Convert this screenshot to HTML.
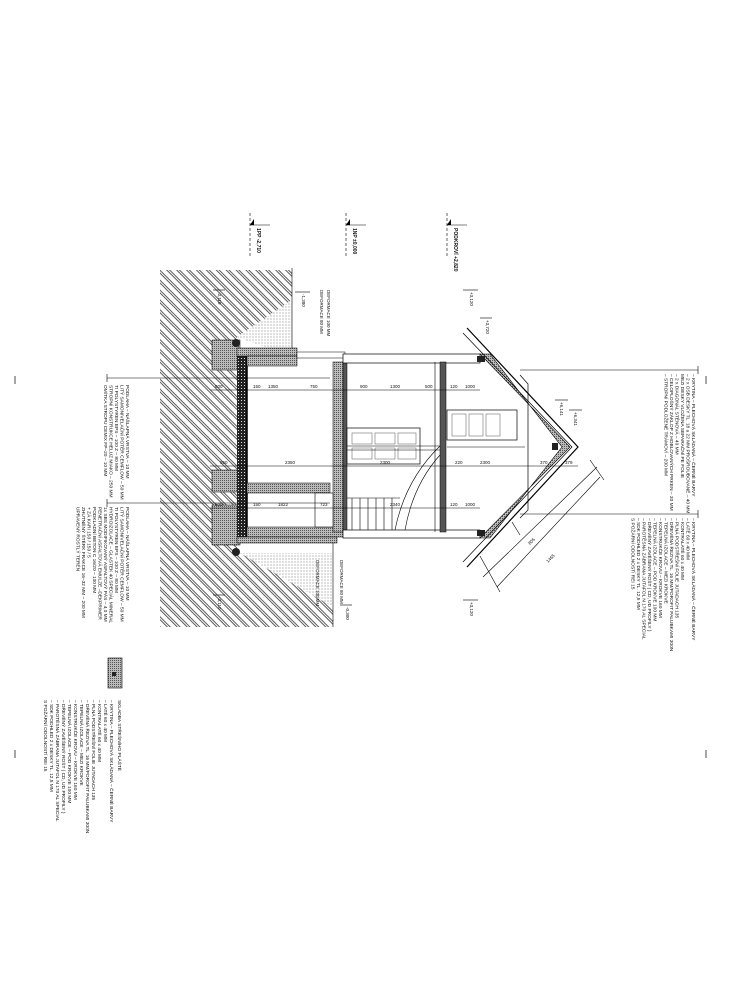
<!DOCTYPE html>
<html><head><meta charset="utf-8"><style>
html,body{margin:0;padding:0;background:#fff;}
svg{display:block;}
text{font-family:"Liberation Sans",sans-serif;fill:#111;}
</style></head><body>
<svg width="739" height="1000" viewBox="0 0 739 1000" xmlns="http://www.w3.org/2000/svg">
<defs>
<pattern id="h" width="7" height="7" patternUnits="userSpaceOnUse" patternTransform="rotate(45)">
<rect width="7" height="7" fill="#fff"/>
<line x1="0" y1="1" x2="7" y2="1" stroke="#333" stroke-width="0.8"/>
<line x1="0" y1="3" x2="7" y2="3" stroke="#333" stroke-width="0.8"/>
</pattern>
<pattern id="d" width="3" height="3" patternUnits="userSpaceOnUse">
<rect width="3" height="3" fill="#fff"/><circle cx="1" cy="1" r="0.5" fill="#555"/>
</pattern>
<pattern id="g" width="2" height="2" patternUnits="userSpaceOnUse">
<rect width="2" height="2" fill="#bbb"/><rect width="1" height="1" fill="#555"/>
</pattern>
<pattern id="c" width="3" height="3" patternUnits="userSpaceOnUse">
<rect width="3" height="3" fill="#222"/><rect x="1" y="1" width="1" height="1" fill="#ddd"/>
</pattern>
</defs>

<line x1="15" y1="376" x2="15" y2="384" stroke="#000" stroke-width="0.7"/>
<line x1="15" y1="750" x2="15" y2="758" stroke="#000" stroke-width="0.7"/>
<line x1="706" y1="376" x2="706" y2="384" stroke="#000" stroke-width="0.7"/>
<line x1="706" y1="750" x2="706" y2="758" stroke="#000" stroke-width="0.7"/>

<polygon points="160,270 292,270 292,300 237,337 237,553 292,553 333,553 333,627 160,627" fill="url(#h)"/>
<polygon points="292,300 292,357 237,337" fill="url(#d)"/>
<polygon points="240,553 333,553 333,607" fill="url(#d)"/>
<line x1="292" y1="268" x2="292" y2="357" stroke="#000" stroke-width="0.6"/>
<line x1="333" y1="540" x2="333" y2="627" stroke="#000" stroke-width="0.6"/>

<rect x="212" y="340" width="28" height="30" fill="url(#g)" stroke="#000" stroke-width="0.5"/>
<rect x="212" y="470" width="28" height="22" fill="url(#g)" stroke="#000" stroke-width="0.5"/>
<rect x="212" y="505" width="28" height="40" fill="url(#g)" stroke="#000" stroke-width="0.5"/>
<circle cx="236" cy="343" r="4" fill="#222"/><circle cx="236" cy="552" r="4" fill="#222"/>

<rect x="237" y="348" width="10" height="192" fill="url(#c)"/>
<line x1="247" y1="350" x2="247" y2="540" stroke="#000" stroke-width="1.5"/>
<rect x="237" y="348" width="60" height="8" fill="url(#g)" stroke="#000" stroke-width="0.5"/>
<rect x="247" y="356" width="50" height="10" fill="url(#g)" stroke="#000" stroke-width="0.5"/>
<rect x="297" y="352" width="48" height="6" fill="#fff" stroke="#000" stroke-width="0.5"/>
<rect x="247" y="527" width="98" height="10" fill="url(#g)" stroke="#000" stroke-width="0.5"/>
<rect x="237" y="537" width="100" height="6" fill="url(#g)" stroke="#000" stroke-width="0.5"/>
<rect x="247" y="483" width="83" height="10" fill="url(#g)" stroke="#000" stroke-width="0.5"/>
<rect x="333" y="362" width="10" height="170" fill="url(#g)" stroke="#000" stroke-width="0.5"/>
<rect x="315" y="493" width="18" height="34" fill="#fff" stroke="#000" stroke-width="0.6"/>

<rect x="343" y="362" width="4" height="170" fill="#555" stroke="#000" stroke-width="0.5"/>
<rect x="343" y="354" width="137" height="9" fill="#fff" stroke="#000" stroke-width="0.7"/>
<rect x="343" y="530" width="137" height="8" fill="#fff" stroke="#000" stroke-width="0.7"/>
<rect x="440" y="362" width="6" height="170" fill="#555" stroke="#000" stroke-width="0.5"/>
<line x1="435" y1="362" x2="435" y2="532" stroke="#000" stroke-width="0.6"/>
<rect x="347" y="428" width="73" height="36" fill="#fff" stroke="#000" stroke-width="0.7"/>
<rect x="352" y="433" width="20" height="11" fill="none" stroke="#555" stroke-width="0.5"/>
<rect x="375" y="433" width="20" height="11" fill="none" stroke="#555" stroke-width="0.5"/>
<rect x="398" y="433" width="18" height="11" fill="none" stroke="#555" stroke-width="0.5"/>
<rect x="352" y="448" width="20" height="11" fill="none" stroke="#555" stroke-width="0.5"/>
<rect x="375" y="448" width="20" height="11" fill="none" stroke="#555" stroke-width="0.5"/>
<rect x="398" y="448" width="18" height="11" fill="none" stroke="#555" stroke-width="0.5"/>
<rect x="447" y="410" width="70" height="30" fill="#fff" stroke="#000" stroke-width="0.7"/>
<rect x="452" y="414" width="14" height="22" fill="none" stroke="#555" stroke-width="0.5"/>
<rect x="469" y="414" width="14" height="22" fill="none" stroke="#555" stroke-width="0.5"/>
<rect x="486" y="414" width="14" height="22" fill="none" stroke="#555" stroke-width="0.5"/>
<g stroke="#000" stroke-width="0.6">
<line x1="347" y1="498" x2="400" y2="498"/>
<line x1="352" y1="498" x2="352" y2="530"/><line x1="360" y1="498" x2="360" y2="530"/>
<line x1="368" y1="498" x2="368" y2="530"/><line x1="376" y1="498" x2="376" y2="530"/>
<line x1="384" y1="498" x2="384" y2="530"/><line x1="392" y1="498" x2="392" y2="530"/>
<path d="M395,530 Q405,480 440,446" fill="none"/><path d="M405,530 Q413,485 440,455" fill="none"/>
<line x1="347" y1="446" x2="440" y2="446"/><line x1="347" y1="450" x2="440" y2="450"/>
<line x1="447" y1="447" x2="525" y2="447"/>
</g>

<polygon points="480,354 570,447 480,538 490,538 562,447 490,354" fill="url(#g)" stroke="#000" stroke-width="0.6"/>
<polyline points="467,328 578,447 467,567" fill="none" stroke="#000" stroke-width="1.2"/>
<polyline points="463,333 572,447 463,562" fill="none" stroke="#000" stroke-width="0.7"/>
<polyline points="520,375 528,384 528,510 520,518" fill="none" stroke="#000" stroke-width="0.7"/>
<rect x="477" y="356" width="8" height="6" fill="#222"/><rect x="477" y="530" width="8" height="6" fill="#222"/>
<rect x="552" y="443" width="6" height="7" fill="#222"/>

<g stroke="#000" stroke-width="0.6">
<line x1="210" y1="390" x2="480" y2="390"/>
<line x1="210" y1="466" x2="578" y2="466"/>
<line x1="210" y1="508" x2="480" y2="508"/>
<line x1="107" y1="378" x2="330" y2="378"/>
<line x1="107" y1="503" x2="330" y2="503"/>
<line x1="107" y1="374" x2="107" y2="382"/><line x1="107" y1="499" x2="107" y2="507"/>
<line x1="520" y1="370" x2="698" y2="370"/>
<line x1="520" y1="514" x2="698" y2="514"/>
<line x1="698" y1="366" x2="698" y2="374"/><line x1="698" y1="510" x2="698" y2="518"/>
<line x1="483" y1="577" x2="597" y2="467"/>
<line x1="497" y1="587" x2="600" y2="477"/>
<line x1="480" y1="556" x2="500" y2="592"/>
<line x1="512" y1="522" x2="520" y2="535"/>
<line x1="590" y1="460" x2="604" y2="480"/>
</g>
<g font-size="4.5">
<text x="215" y="388">600</text><text x="253" y="388">150</text><text x="268" y="388">1350</text><text x="310" y="388">750</text>
<text x="360" y="388">900</text><text x="390" y="388">1300</text><text x="425" y="388">500</text><text x="450" y="388">120</text><text x="465" y="388">1000</text>
<text x="220" y="464">950</text><text x="285" y="464">2350</text><text x="380" y="464">2300</text><text x="455" y="464">220</text><text x="480" y="464">2300</text><text x="540" y="464">370</text><text x="565" y="464">379</text>
<text x="215" y="506">600</text><text x="253" y="506">150</text><text x="278" y="506">1822</text><text x="320" y="506">723</text><text x="390" y="506">2340</text><text x="450" y="506">120</text><text x="465" y="506">1000</text>
</g>

<g stroke="#000" stroke-width="0.6" stroke-dasharray="3,2">
<line x1="250" y1="213" x2="250" y2="258"/><line x1="346" y1="213" x2="346" y2="258"/><line x1="447" y1="213" x2="447" y2="258"/>
</g>
<g stroke="#000" stroke-width="0.6">
<line x1="250" y1="225" x2="270" y2="225"/><line x1="346" y1="225" x2="366" y2="225"/><line x1="447" y1="225" x2="467" y2="225"/>
<line x1="295" y1="292" x2="310" y2="292"/><line x1="463" y1="290" x2="478" y2="290"/><line x1="480" y1="318" x2="492" y2="318"/>
<line x1="213" y1="290" x2="225" y2="290"/><line x1="213" y1="595" x2="225" y2="595"/><line x1="463" y1="600" x2="478" y2="600"/>
<line x1="340" y1="605" x2="352" y2="605"/><line x1="555" y1="400" x2="568" y2="400"/><line x1="569" y1="410" x2="582" y2="410"/>
</g>
<polygon points="250,225 254,219 254,225" fill="#000"/><polygon points="346,225 350,219 350,225" fill="#000"/><polygon points="447,225 451,219 451,225" fill="#000"/>
<g font-size="5" font-weight="bold">
<text transform="translate(257,228) rotate(90)">1PP -2,710</text>
<text transform="translate(353,228) rotate(90)">1NP ±0,000</text>
<text transform="translate(454,228) rotate(90)">PODKROVÍ +2,820</text>
</g>
<g font-size="4.5">
<text transform="translate(302,294) rotate(90)">-1,380</text>
<text transform="translate(470,292) rotate(90)">+3,120</text>
<text transform="translate(486,320) rotate(90)">+3,720</text>
<text transform="translate(218,292) rotate(90)">-3,110</text>
<text transform="translate(218,597) rotate(90)">-3,110</text>
<text transform="translate(470,602) rotate(90)">+3,120</text>
<text transform="translate(346,607) rotate(90)">-0,300</text>
<text transform="translate(560,402) rotate(90)">+6,141</text>
<text transform="translate(574,412) rotate(90)">+6,341</text>
<text transform="translate(320,290) rotate(90)">DEFORMACE 80 MM</text>
<text transform="translate(327,290) rotate(90)">DEFORMACE 100 MM</text>
<text transform="translate(316,560) rotate(90)">DEFORMACE 100 MM</text>
<text transform="translate(340,560) rotate(90)">DEFORMACE 80 MM</text>
<text transform="translate(530,545) rotate(-45)">805</text>
<text transform="translate(548,563) rotate(-45)">1465</text>
</g>

<g font-size="4.8">
<text transform="translate(692,374) rotate(90)">– KRYTINA – PLECHOVÁ SKLÁDANÁ – ČERNÉ BARVY</text>
<text transform="translate(686.5,374) rotate(90)">– 2 x OSB DESKY TL. 18 a 22 MM PROŠROUBOVANÉ – 40 MM</text>
<text transform="translate(681,374) rotate(90)">MEZI DESKY VLOŽENA SEPARAČNÍ PE FOLIE</text>
<text transform="translate(675.5,374) rotate(90)">– 2 x DIAGONÁL STĚNOVÁ – 40 MM</text>
<text transform="translate(670,374) rotate(90)">– CELOPLOŠNÝ ZÁKLOP Z HOBLOVANÝCH PRKEN – 30 MM</text>
<text transform="translate(664.5,374) rotate(90)">– STROPNÍ PODLOŽENÉ TRÁMOVÍ – 200 MM</text>
<text transform="translate(692,518) rotate(90)">– KRYTINA – PLECHOVÁ SKLÁDANÁ – ČERNÉ BARVY</text>
<text transform="translate(686.5,518) rotate(90)">– LATĚ 60 x 40 MM</text>
<text transform="translate(681,518) rotate(90)">– KONTRALATĚ 60 x 40 MM</text>
<text transform="translate(675.5,518) rotate(90)">– PLNÁ PODSTŘEŠNÍ FOLIE JUTADACH 135</text>
<text transform="translate(670,518) rotate(90)">– DŘEVĚNÁ ŘEZIVA TL. 16 MM/POROFIT PALUBKAMI 300N</text>
<text transform="translate(664.5,518) rotate(90)">– TEPELNÁ IZOLACE – MEZI KROKVE</text>
<text transform="translate(659,518) rotate(90)">– KONSTRUKČE KROVU – KROKVE 160 MM</text>
<text transform="translate(653.5,518) rotate(90)">– TEPELNÁ IZOLACE – POD KROKVE 100 MM</text>
<text transform="translate(648,518) rotate(90)">– DŘEVĚNÝ ZAVĚŠENÝ ROŠT ( CD, UD PROFILY )</text>
<text transform="translate(642.5,518) rotate(90)">– PAROTĚSNÁ ZÁBRANA JUTAFOL N 170 AL SPECIAL</text>
<text transform="translate(637,518) rotate(90)">– SDK PODHLED 2 x DESKY TL. 12,5 MM</text>
<text transform="translate(631.5,518) rotate(90)">S POŽÁRNÍ ODOLNOSTÍ REI 15</text>
</g>

<g font-size="4.8">
<text transform="translate(126,385) rotate(90)">PODLAHA – NÁŠLAPNÁ VRSTVA – 10 MM</text>
<text transform="translate(120.5,385) rotate(90)">LITÝ SAMONIVELAČNÍ POTĚR CEMFLOW – 50 MM</text>
<text transform="translate(115,385) rotate(90)">TI POLYSTYREN EPS – 100 Z – 80 MM</text>
<text transform="translate(109.5,385) rotate(90)">STROPNÍ KONSTRUKCE HELUZ MIAKO – 250 MM</text>
<text transform="translate(104,385) rotate(90)">OMÍTKA STROPU CEMIX FP–20 – 10 MM</text>
<text transform="translate(126,507) rotate(90)">PODLAHA – NÁŠLAPNÁ VRSTVA – 10 MM</text>
<text transform="translate(120.5,507) rotate(90)">LITÝ SAMONIVELAČNÍ POTĚR CEMFLOW – 50 MM</text>
<text transform="translate(115,507) rotate(90)">TI POLYSTYREN EPS – 100 Z – 80 MM</text>
<text transform="translate(109.5,507) rotate(90)">HYDROIZOLACE – GLASTEK 40 SPECIÁL MINERAL</text>
<text transform="translate(104,507) rotate(90)">1x SBS MODIFIKOVANÝ ASFALTOVÝ PÁS – 4,0 MM</text>
<text transform="translate(98.5,507) rotate(90)">PENETRAČNÍ ASFALTOVÁ EMULZE –DEKPRIMER</text>
<text transform="translate(93,507) rotate(90)">PODKLADNÍ BETON C 16/20 – 100 MM</text>
<text transform="translate(87.5,507) rotate(90)">+ ZÁ KARI 150 / 150 / 5</text>
<text transform="translate(82,507) rotate(90)">ZHUTNĚNÝ ŠTĚRK FRAKCE 16–32 MM – 200 MM</text>
<text transform="translate(76.5,507) rotate(90)">UPRAVENÝ ROSTLÝ TERÉN</text>
</g>

<rect x="108" y="658" width="14" height="30" fill="url(#g)" stroke="#000" stroke-width="0.6"/>
<rect x="112" y="672" width="4" height="4" fill="#222"/>
<g font-size="4.8">
<text transform="translate(118,700) rotate(90)">SKLADBA STŘEŠNÍHO PLÁŠTĚ</text>
<text transform="translate(110,700) rotate(90)">– KRYTINA – PLECHOVÁ SKLÁDANÁ – ČERNÉ BARVY</text>
<text transform="translate(104,700) rotate(90)">– LATĚ 60 x 40 MM</text>
<text transform="translate(98,700) rotate(90)">– KONTRALATĚ 60 x 40 MM</text>
<text transform="translate(92,700) rotate(90)">– PLNÁ PODSTŘEŠNÍ FOLIE JUTADACH 135</text>
<text transform="translate(86,700) rotate(90)">– DŘEVĚNÁ ŘEZIVA TL. 16 MM/POROFIT PALUBKAMI 300N</text>
<text transform="translate(80,700) rotate(90)">– TEPELNÁ IZOLACE – MEZI KROKVE</text>
<text transform="translate(74,700) rotate(90)">– KONSTRUKČE KROVU – KROKVE 160 MM</text>
<text transform="translate(68,700) rotate(90)">– TEPELNÁ IZOLACE – POD KROKVE 100 MM</text>
<text transform="translate(62,700) rotate(90)">– DŘEVĚNÝ ZAVĚŠENÝ ROŠT ( CD, UD PROFILY )</text>
<text transform="translate(56,700) rotate(90)">– PAROTĚSNÁ ZÁBRANA JUTAFOL N 170 AL SPECIAL</text>
<text transform="translate(50,700) rotate(90)">– SDK PODHLED 2 x DESKY TL. 12,5 MM</text>
<text transform="translate(44,700) rotate(90)">S POŽÁRNÍ ODOLNOSTÍ REI 15</text>
</g>
</svg>
</body></html>
